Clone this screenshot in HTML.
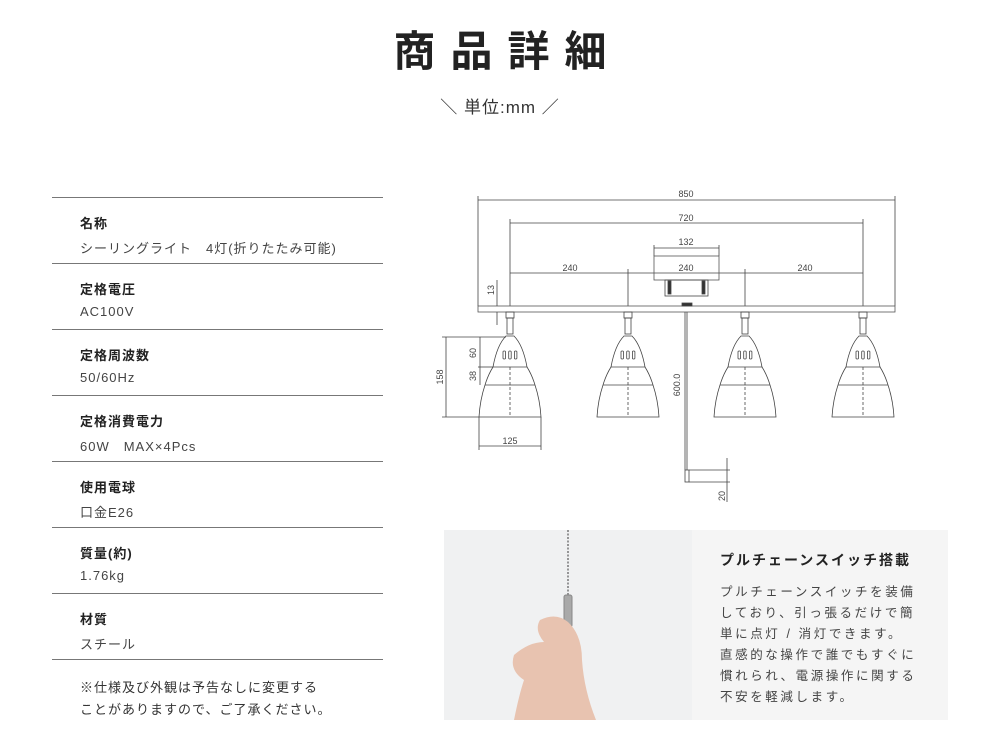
<!DOCTYPE html>
<html><head><meta charset="utf-8"><style>
body{margin:0;width:1000px;height:733px;background:#fff;position:relative;overflow:hidden;font-family:"Liberation Sans","Noto Sans CJK JP",sans-serif;color:#333}
.t{position:absolute;left:0;width:1000px;text-align:center;top:26px;font-size:42px;font-weight:bold;letter-spacing:15px;text-indent:15px;color:#222;line-height:52px}
.st{position:absolute;left:0;width:1000px;text-align:center;top:96px;font-size:17px;letter-spacing:1px;color:#333;line-height:24px}
.row{position:absolute;left:52px;width:331px;border-top:1px solid #777}
.lb{position:absolute;left:28px;font-size:13px;font-weight:bold;color:#222;letter-spacing:1px}
.v{position:absolute;left:28px;font-size:13px;color:#444;letter-spacing:1px;white-space:nowrap}
.note{position:absolute;left:80px;top:677px;font-size:13px;line-height:22px;color:#333;letter-spacing:1px}
.ph{position:absolute;left:444px;top:530px;width:248px;height:190px;background:#f0f1f2}
.pn{position:absolute;left:692px;top:530px;width:256px;height:190px;background:#f5f5f5}
.pn h3{margin:0;position:absolute;left:28px;top:20px;font-size:14px;letter-spacing:2px;color:#222}
.pn p{margin:0;position:absolute;left:28px;top:52px;font-size:12.5px;line-height:21px;letter-spacing:2.6px;color:#444}
</style></head><body>
<div class="t">商品詳細</div>
<div class="st">＼ 単位:mm ／</div>

<div class="row" style="top:197px;height:66px"><div class="lb" style="top:15px">名称</div><div class="v" style="top:40px">シーリングライト　4灯(折りたたみ可能)</div></div>
<div class="row" style="top:263px;height:66px"><div class="lb" style="top:15px">定格電圧</div><div class="v" style="top:40px">AC100V</div></div>
<div class="row" style="top:329px;height:66px"><div class="lb" style="top:15px">定格周波数</div><div class="v" style="top:40px">50/60Hz</div></div>
<div class="row" style="top:395px;height:66px"><div class="lb" style="top:15px">定格消費電力</div><div class="v" style="top:40px">60W　MAX×4Pcs</div></div>
<div class="row" style="top:461px;height:66px"><div class="lb" style="top:15px">使用電球</div><div class="v" style="top:40px">口金E26</div></div>
<div class="row" style="top:527px;height:66px"><div class="lb" style="top:15px">質量(約)</div><div class="v" style="top:40px">1.76kg</div></div>
<div class="row" style="top:593px;height:66px"><div class="lb" style="top:15px">材質</div><div class="v" style="top:40px">スチール</div></div>
<div class="row" style="top:659px;height:0"></div>
<div class="note">※仕様及び外観は予告なしに変更する<br>ことがありますので、ご了承ください。</div>

<svg style="position:absolute;left:0;top:0" width="1000" height="733" font-family="Liberation Sans,sans-serif" font-size="9" fill="none" stroke="#444" stroke-width="0.8">
<g>
<line x1="478" y1="200" x2="895" y2="200"/><line x1="478" y1="196" x2="478" y2="306"/><line x1="895" y1="196" x2="895" y2="306"/>
<line x1="510" y1="223" x2="863" y2="223"/><line x1="510" y1="219" x2="510" y2="306"/><line x1="863" y1="219" x2="863" y2="306"/>
<line x1="654" y1="248" x2="719" y2="248"/><line x1="654" y1="245" x2="654" y2="256"/><line x1="719" y1="245" x2="719" y2="256"/>
<line x1="510" y1="273" x2="863" y2="273"/><line x1="628" y1="269" x2="628" y2="306"/><line x1="745" y1="269" x2="745" y2="306"/>
<rect x="654" y="256" width="65" height="24" stroke="#555"/>
<rect x="665" y="280" width="43" height="16"/><rect x="668" y="281" width="3" height="13" fill="#333"/><rect x="702" y="281" width="3" height="13" fill="#333"/>
<rect x="478" y="306" width="417" height="6" stroke="#555"/>
<rect x="682" y="303" width="10" height="3" fill="#333"/>
<line x1="497" y1="306" x2="497" y2="280"/><line x1="497" y1="312" x2="497" y2="325"/>
</g>
<g fill="#444" stroke="none">
<text x="686" y="197" text-anchor="middle">850</text>
<text x="686" y="221" text-anchor="middle">720</text>
<text x="686" y="245" text-anchor="middle">132</text>
<text x="570" y="271" text-anchor="middle">240</text>
<text x="686" y="271" text-anchor="middle">240</text>
<text x="805" y="271" text-anchor="middle">240</text>
<text x="510" y="444" text-anchor="middle">125</text>
<text transform="translate(494,290) rotate(-90)" text-anchor="middle">13</text>
<text transform="translate(443,377) rotate(-90)" text-anchor="middle">158</text>
<text transform="translate(476,353) rotate(-90)" text-anchor="middle">60</text>
<text transform="translate(476,376) rotate(-90)" text-anchor="middle">38</text>
<text transform="translate(680,385) rotate(-90)" text-anchor="middle">600.0</text>
<text transform="translate(725,496) rotate(-90)" text-anchor="middle">20</text>
</g>
<g id="lamp">
<rect x="506" y="312" width="8" height="6"/><rect x="507" y="318" width="6" height="16"/>
<path d="M506 336 Q497 345 493 367 Q488 375 485 385 Q480 400 479 417 L541 417 Q540 400 535 385 Q532 375 527 367 Q523 345 514 336 Z"/>
<line x1="493" y1="367" x2="527" y2="367"/><line x1="485" y1="385" x2="535" y2="385"/>
<rect x="503" y="351" width="2.5" height="8" rx="1"/><rect x="508.7" y="351" width="2.5" height="8" rx="1"/><rect x="514.4" y="351" width="2.5" height="8" rx="1"/>
<line x1="510" y1="367" x2="510" y2="417" stroke-dasharray="3 2"/>
</g>
<use href="#lamp" x="118"/><use href="#lamp" x="235"/><use href="#lamp" x="353"/>
<line x1="446" y1="337" x2="446" y2="417"/><line x1="442" y1="337" x2="506" y2="337"/><line x1="442" y1="417" x2="479" y2="417"/>
<line x1="480" y1="337" x2="480" y2="385"/><line x1="478" y1="367" x2="493" y2="367"/>
<line x1="479" y1="417" x2="479" y2="450"/><line x1="541" y1="417" x2="541" y2="450"/><line x1="479" y1="446" x2="541" y2="446"/>
<line x1="685" y1="312" x2="685" y2="470"/><line x1="687" y1="312" x2="687" y2="470"/>
<rect x="685" y="470" width="4" height="12"/>
<line x1="689" y1="470" x2="730" y2="470"/><line x1="689" y1="482" x2="730" y2="482"/>
<line x1="727" y1="458" x2="727" y2="502"/>
</svg>

<div class="ph">
<svg width="248" height="190" style="position:absolute;left:0;top:0">
<line x1="124" y1="0" x2="124" y2="68" stroke="#777" stroke-width="1.5" stroke-dasharray="2 1.5"/>
<rect x="120" y="65" width="8" height="32" rx="2" fill="#a9a9a9" stroke="#888"/>
<path d="M96 90 Q112 82 124 92 Q138 105 138 130 Q140 160 152 190 L70 190 Q75 165 80 150 Q65 140 70 125 Q85 112 100 112 Q90 100 96 90Z" fill="#e8c3b0"/>
</svg>
</div>
<div class="pn"><h3>プルチェーンスイッチ搭載</h3>
<p>プルチェーンスイッチを装備<br>しており、引っ張るだけで簡<br>単に点灯 / 消灯できます。<br>直感的な操作で誰でもすぐに<br>慣れられ、電源操作に関する<br>不安を軽減します。</p></div>
</body></html>
